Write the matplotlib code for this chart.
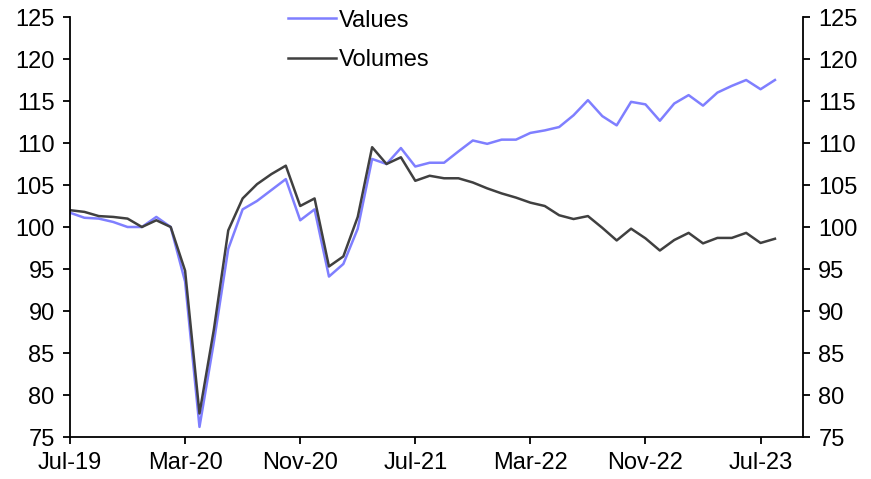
import matplotlib
matplotlib.use("Agg")
import matplotlib.pyplot as plt
import numpy as np

tick_labels = ["Jul-19", "Mar-20", "Nov-20", "Jul-21", "Mar-22", "Nov-22", "Jul-23"]
tick_index = [0, 8, 16, 24, 32, 40, 48]

values = [101.7, 101.1, 101.0, 100.6, 100.0, 100.0, 101.2, 100.0, 93.5, 76.2,
          86.3, 97.4, 102.1, 103.1, 104.4, 105.7, 100.8, 102.1, 94.1, 95.6,
          99.8, 108.1, 107.5, 109.4, 107.2, 107.65, 107.65, 109.0, 110.3, 109.9,
          110.4, 110.4, 111.2, 111.5, 111.9, 113.3, 115.1, 113.2, 112.1, 114.9,
          114.6, 112.65, 114.7, 115.7, 114.45, 116.0, 116.8, 117.5, 116.4, 117.5]
volumes = [102.0, 101.8, 101.3, 101.2, 101.0, 100.0, 100.8, 100.0, 94.8, 77.8,
           87.8, 99.6, 103.4, 105.1, 106.3, 107.3, 102.5, 103.4, 95.3, 96.5,
           101.2, 109.5, 107.5, 108.3, 105.5, 106.1, 105.8, 105.8, 105.3, 104.6,
           104.0, 103.5, 102.9, 102.5, 101.4, 100.95, 101.3, 99.9, 98.4, 99.8,
           98.65, 97.2, 98.45, 99.3, 98.05, 98.7, 98.7, 99.3, 98.1, 98.6]

plt.rcParams['font.family'] = ['Liberation Sans', 'DejaVu Sans']
fs = 17

fig = plt.figure(figsize=(8.71, 4.79), dpi=100)
ax = fig.add_axes([70/871, 1-437/479, (803-70)/871, (437-17)/479])

x = np.arange(len(values))
ax.plot(x, values, color="#7f7fff", lw=1.8, label="Values")
ax.plot(x, volumes, color="#404040", lw=1.8, label="Volumes")

ax.set_xlim(0, 50.95)
ax.set_ylim(75, 125)
ax.set_yticks(np.arange(75, 126, 5))
ax.set_xticks(tick_index)
ax.set_xticklabels(tick_labels)

ax.spines['top'].set_visible(False)
for s in ['left', 'right', 'bottom']:
    ax.spines[s].set_linewidth(1.3)
ax.tick_params(axis='y', which='both', left=True, right=True, labelleft=True, labelright=True,
               direction='out', length=5, width=1.3, labelsize=fs, pad=6)
ax.tick_params(axis='x', direction='out', length=5, width=1.3, labelsize=fs, pad=6)

leg = ax.legend(loc='upper left', bbox_to_anchor=(0.285, 1.04), frameon=False,
                fontsize=fs, handlelength=2.0, handletextpad=0.15, labelspacing=0.75,
                borderaxespad=0)

fig.savefig("out.png", dpi=100)
